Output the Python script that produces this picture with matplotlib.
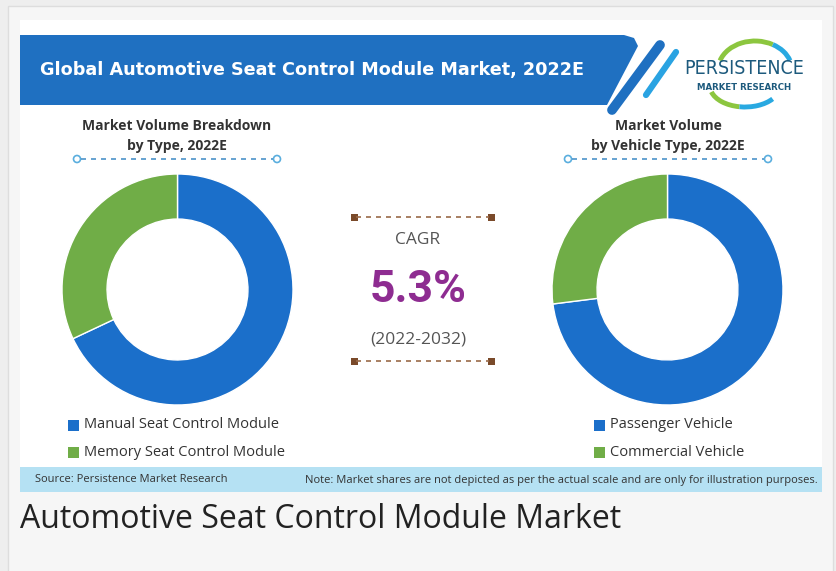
import matplotlib
matplotlib.use("Agg")
import matplotlib.pyplot as plt
from matplotlib.patches import Rectangle, Polygon, Circle, Arc

# data
title = "Global Automotive Seat Control Module Market, 2022E"
caption = "Automotive Seat Control Module Market"
type_labels = ["Manual Seat Control Module", "Memory Seat Control Module"]
type_share = [68, 32]
vehicle_labels = ["Passenger Vehicle", "Commercial Vehicle"]
vehicle_share = [73, 27]
cagr_value = "5.3%"
cagr_period = "(2022-2032)"
source_txt = "Source: Persistence Market Research"
note_txt = ("Note: Market shares are not depicted as per the actual scale "
            "and are only for illustration purposes.")

BLUE = "#1b6fca"
GREEN = "#70ad47"
W, H = 836, 571

fig = plt.figure(figsize=(W / 100, H / 100), dpi=100, facecolor="#eeeeee")
ax = fig.add_axes([0, 0, 1, 1])
ax.set_xlim(0, W)
ax.set_ylim(H, 0)
ax.axis("off")

# page background and white card
ax.add_patch(Rectangle((8, 6), 825, 580, facecolor="#f6f6f6", edgecolor="#dddddd", lw=1))
ax.add_patch(Rectangle((20, 20), 802, 472, facecolor="white", edgecolor="none"))

# header banner
ax.add_patch(Polygon([(20, 35), (624, 35), (634, 38), (638, 46), (607, 105), (20, 105)],
                     closed=True, facecolor="#1f70c1", edgecolor="none"))
ax.plot([660, 612], [45, 110], color="#1f70c1", lw=7, solid_capstyle="round")
ax.plot([676, 646], [52, 95], color="#2aa3e2", lw=4.5, solid_capstyle="round")
ax.text(40, 70, title, color="white", fontsize=12.7, fontweight="bold",
        family="DejaVu Sans", va="center", ha="left")

# logo (y axis is inverted, so arc angles run clockwise on screen)
ax.add_patch(Arc((755, 70), 74, 58, theta1=195, theta2=305, color="#8cc63f", lw=3.5))
ax.add_patch(Arc((755, 70), 74, 58, theta1=305, theta2=345, color="#29a9e1", lw=3.5))
ax.add_patch(Arc((745, 86), 70, 42, theta1=105, theta2=170, color="#8cc63f", lw=3.5))
ax.add_patch(Arc((745, 86), 70, 42, theta1=25, theta2=105, color="#29a9e1", lw=3.5))
ax.text(744, 69, "PERSISTENCE", color="#1d5a7d", fontsize=14, family="DejaVu Sans",
        fontstretch="condensed", ha="center", va="center")
ax.text(744, 87, "MARKET RESEARCH", color="#1d5a7d", fontsize=6.2, fontweight="bold",
        family="DejaVu Sans", ha="center", va="center")

# panel subtitles
for cx, lines in [(177, ["Market Volume Breakdown", "by Type, 2022E"]),
                  (668, ["Market Volume", "by Vehicle Type, 2022E"])]:
    ax.text(cx, 126, lines[0], ha="center", va="center", fontsize=10,
            fontweight="bold", family="Open Sans", color="#333333")
    ax.text(cx, 146, lines[1], ha="center", va="center", fontsize=10,
            fontweight="bold", family="Open Sans", color="#333333")
    ax.plot([cx - 96, cx + 96], [159, 159], color="#4d93c9", lw=1.2, ls=(0, (3, 3)))
    for ex in (cx - 100, cx + 100):
        ax.add_patch(Circle((ex, 159), 3.5, facecolor="white", edgecolor="#5aaede", lw=1.2))


def px_axes(x0, y0, w, h):
    return fig.add_axes([x0 / W, 1 - (y0 + h) / H, w / W, h / H])


for x0, shares in [(62, type_share), (552, vehicle_share)]:
    dax = px_axes(x0, 174, 231, 231)
    dax.pie(shares, colors=[BLUE, GREEN], startangle=90, counterclock=False,
            wedgeprops=dict(width=0.39, edgecolor="white", linewidth=1))
    dax.set_xlim(-1, 1)
    dax.set_ylim(-1, 1)
    dax.axis("off")

# legends
for x0, labels in [(68, type_labels), (594, vehicle_labels)]:
    for i, (lab, col) in enumerate(zip(labels, [BLUE, GREEN])):
        y = 425 + 27 * i
        ax.add_patch(Rectangle((x0, y - 5.5), 11, 11, facecolor=col, edgecolor="none"))
        ax.text(x0 + 16, y, lab, ha="left", va="center", fontsize=10.5,
                family="Open Sans", color="#333333")

# CAGR block
for y in (217, 361):
    ax.plot([356, 489], [y, y], color="#9a6a48", lw=1.2, ls=(0, (3, 3)))
    for ex in (354, 491):
        ax.add_patch(Rectangle((ex - 3.5, y - 3.5), 7, 7, facecolor="#7a4a2a", edgecolor="none"))
ax.text(418, 240, "CAGR", ha="center", va="center", fontsize=12.5,
        family="Open Sans", color="#555555")
ax.text(418, 290, cagr_value, ha="center", va="center", fontsize=32,
        fontweight="bold", family="Roboto", color="#8e2c91")
ax.text(418, 340, cagr_period, ha="center", va="center", fontsize=12.5,
        family="Open Sans", color="#555555")

# source bar
ax.add_patch(Rectangle((20, 467), 802, 25, facecolor="#b5e1f3", edgecolor="none"))
ax.text(35, 480, source_txt, ha="left", va="center", fontsize=8,
        family="Open Sans", color="#333333")
ax.text(818, 480, note_txt, ha="right", va="center", fontsize=8,
        family="Open Sans", color="#333333")

# caption
ax.text(20, 519, caption, ha="left", va="center", fontsize=23,
        family="Open Sans", color="#222222")

fig.savefig("out.png", dpi=100, facecolor=fig.get_facecolor())
